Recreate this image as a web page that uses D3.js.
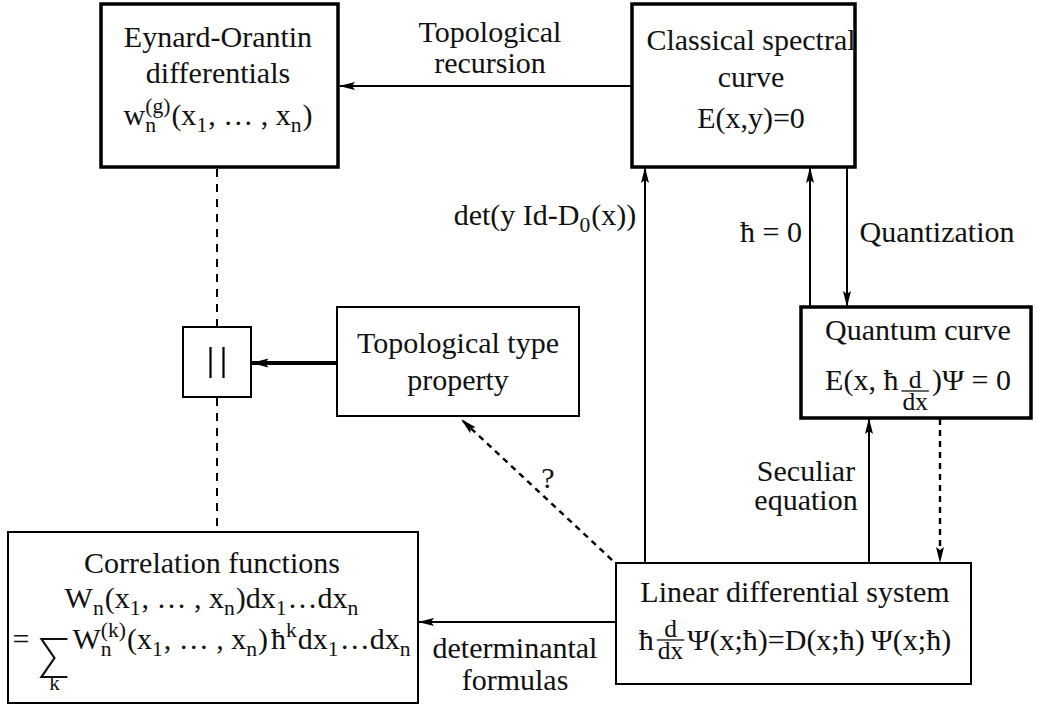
<!DOCTYPE html>
<html><head><meta charset="utf-8">
<script src="https://cdn.jsdelivr.net/npm/d3@7"></script>
<style>body{margin:0;background:#fff} text{font-family:"Liberation Serif","Tinos","Times New Roman","DejaVu Serif",serif}</style>
</head><body><svg id="c" width="1037" height="706"></svg>
<script>
// ---- data ----
const nodeIds = ["eo","csc","topo","eq","qc","lds","cf"];
const nodeLines = [
  [["Eynard-Orantin"],["differentials"],["w",{sub:"n",sup:"(g)"},"(x",{sub:"1"},", … , x",{sub:"n"},")"]],
  [["Classical spectral"],["curve"],["E(x,y)=0"]],
  [["Topological type"],["property"]],
  [],
  [["Quantum curve"],["E(x, ħ",{frac:["d","dx"],dy:0},")Ψ = 0"]],
  [["Linear differential system"],["ħ",{frac:["d","dx"],dy:-11},"Ψ(x;ħ)=D(x;ħ)",{gap:6},"Ψ(x;ħ)"]],
  [["Correlation functions"],["W",{sub:"n"},"(x",{sub:"1"},", … , x",{sub:"n"},")dx",{sub:"1"},"…dx",{sub:"n"}],
   ["=",{gap:12},{sum:"k"},"W",{sub:"n",sup:"(k)"},"(x",{sub:"1"},", … , x",{sub:"n"},")",{gap:3},"ħ",{sup:"k"},"dx",{sub:"1"},"…dx",{sub:"n"}]]
];
const edgeFrom = ["csc","lds","qc","csc","lds","qc","lds","lds","topo"];
const edgeTo   = ["eo","csc","csc","qc","qc","lds","topo","cf","eq"];
const edgeStyle= ["solid","solid","solid","solid","solid","dashed","dashed","solid","thick"];
const edgeLabels = [[["Topological"],["recursion"]],[["det(y Id-D",{sub:"0"},"(x))"]],[["ħ = 0"]],[["Quantization"]],[["Seculiar"],["equation"]],[],[["?"]],[["determinantal"],["formulas"]],[]];

// ---- layout ----
const box = {
  eo:{x0:101,y0:4,x1:338,y1:167,sw:3.5,lb:[47,83,125],cx:218},
  csc:{x0:632,y0:4,x1:855,y1:167,sw:3.5,lb:[50,87,128],cx:751},
  topo:{x0:337,y0:307,x1:579,y1:416,sw:2,lb:[353,390],cx:458},
  eq:{x0:183,y0:327,x1:251,y1:397,sw:2,lb:[],cx:217},
  qc:{x0:801,y0:307,x1:1031,y1:418,sw:3.5,lb:[340,390],cx:918},
  lds:{x0:616,y0:563,x1:971,y1:684,sw:2,lb:[602,650],cx:795},
  cf:{x0:8,y0:532,x1:418,y1:703,sw:2,lb:[573,608,649],cx:212}
};
const edgePts = [
  [[632,86],[340,86]],[[645,563],[645,168]],[[810,307],[810,168]],[[847,168],[847,306]],
  [[869,563],[869,419]],[[940,419],[940,562]],[[612,560],[462,420]],[[616,622],[419,622]],[[337,363],[252,363]]
];
const labelPos = [[490,[42,73]],[545,[225]],[771,[242]],[937,[242]],[806,[481,510]],null,[548,[488]],[515,[658,690]],null];
const FS = 30;
const FONT = "Liberation Serif";

const svg = d3.select("#c");
const defs = svg.append("defs");
defs.append("marker").attr("id","ah").attr("viewBox","0 0 16 10").attr("refX",15).attr("refY",5)
    .attr("markerWidth",17).attr("markerHeight",10).attr("markerUnits","userSpaceOnUse").attr("orient","auto")
    .append("path").attr("d","M0,1 L16,5 L0,9 L3,5 Z").attr("fill","#000");
defs.append("marker").attr("id","ahT").attr("viewBox","0 0 16 10").attr("refX",15).attr("refY",5)
    .attr("markerWidth",18).attr("markerHeight",11).attr("markerUnits","userSpaceOnUse").attr("orient","auto")
    .append("path").attr("d","M0,1 L16,5 L0,9 L3,5 Z").attr("fill","#000");

// one <text> element per block; each line is laid out with absolutely positioned tspans
function block(lines, cx, baselines){
  const g = svg.append("g");
  const txt = g.append("text").style("font-family",FONT).style("font-size",FS+"px").attr("fill","#111");
  lines.forEach((tokens,li)=>{
    const base = baselines[li];
    const items = [];
    const extras = [];
    let x = 0;
    const S = (s,yy,fs)=>{ const t=txt.append("tspan").attr("y",base+yy).text(s); if(fs) t.style("font-size",fs+"px"); return t; };
    const W = t=>t.node().getComputedTextLength();
    tokens.forEach(tok=>{
      if (typeof tok === "string"){ const t=S(tok,0); items.push([t,x]); x+=W(t); }
      else if (tok.gap){ x+=tok.gap; }
      else if (tok.frac){
        const fs=FS*0.85, dy=tok.dy, x0=x;
        const n=S(tok.frac[0],dy-2,fs), d=S(tok.frac[1],dy+20,fs);
        const wn=W(n), wd=W(d), w=Math.max(wn,wd)+2;
        items.push([n,x0+3+(w-wn)/2]); items.push([d,x0+3+(w-wd)/2]);
        const l=g.append("line").attr("y1",base+dy+1).attr("y2",base+dy+1).attr("stroke","#111").attr("stroke-width",1.3);
        extras.push(off=>l.attr("x1",off+x0+3).attr("x2",off+x0+3+w));
        x+=w+6;
      } else if (tok.sum){
        const w=26, x0=x;
        const p=g.append("path").attr("fill","none").attr("stroke","#111").attr("stroke-width",2.2);
        extras.push(off=>{const a=off+x0; p.attr("d",`M${a+w},${base-10} L${a},${base-10} L${a+13},${base+9} L${a},${base+28} L${a+w},${base+28}`);});
        const k=S(tok.sum,41,FS*0.7); items.push([k,x0+(w-W(k))/2]);
        x+=w+5;
      } else {
        const fs=FS*0.72; let w=0;
        if (tok.sub){const s=S(tok.sub,7,fs); items.push([s,x]); w=Math.max(w,W(s));}
        if (tok.sup){const s=S(tok.sup,-12,fs); items.push([s,x]); w=Math.max(w,W(s));}
        x+=w+1;
      }
    });
    const off = cx - x/2;
    items.forEach(([t,xx])=>t.attr("x",off+xx));
    extras.forEach(f=>f(off));
  });
}

// boxes
nodeIds.forEach((id,i)=>{
  const b=box[id];
  svg.append("rect").attr("x",b.x0).attr("y",b.y0).attr("width",b.x1-b.x0).attr("height",b.y1-b.y0)
    .attr("fill","none").attr("stroke","#000").attr("stroke-width",b.sw);
  if(nodeLines[i].length) block(nodeLines[i], b.cx, b.lb);
});
// equality sign drawn as two vertical bars
[-6.5,6.5].forEach(dx=>svg.append("line").attr("x1",box.eq.cx+dx).attr("x2",box.eq.cx+dx).attr("y1",347).attr("y2",378)
  .attr("stroke","#000").attr("stroke-width",2.2));
// dashed connector through the equality box
const dl = [[[217,169],[217,326]],[[217,398],[217,531]]];
const line = d3.line();
dl.forEach(p=>svg.append("path").attr("d",line(p)).attr("stroke","#000").attr("stroke-width",2).attr("stroke-dasharray","8,7").attr("fill","none"));
// edges
edgePts.forEach((p,i)=>{
  const st=edgeStyle[i];
  svg.append("path").attr("d",line(p)).attr("fill","none").attr("stroke","#000")
    .attr("stroke-width",st==="thick"?4:(st==="dashed"?2.4:2)).attr("stroke-dasharray",st==="dashed"?"6,5":null)
    .attr("marker-end",st==="thick"?"url(#ahT)":"url(#ah)");
  const lp=labelPos[i];
  if(lp) block(edgeLabels[i], lp[0], lp[1]);
});
</script></body></html>
